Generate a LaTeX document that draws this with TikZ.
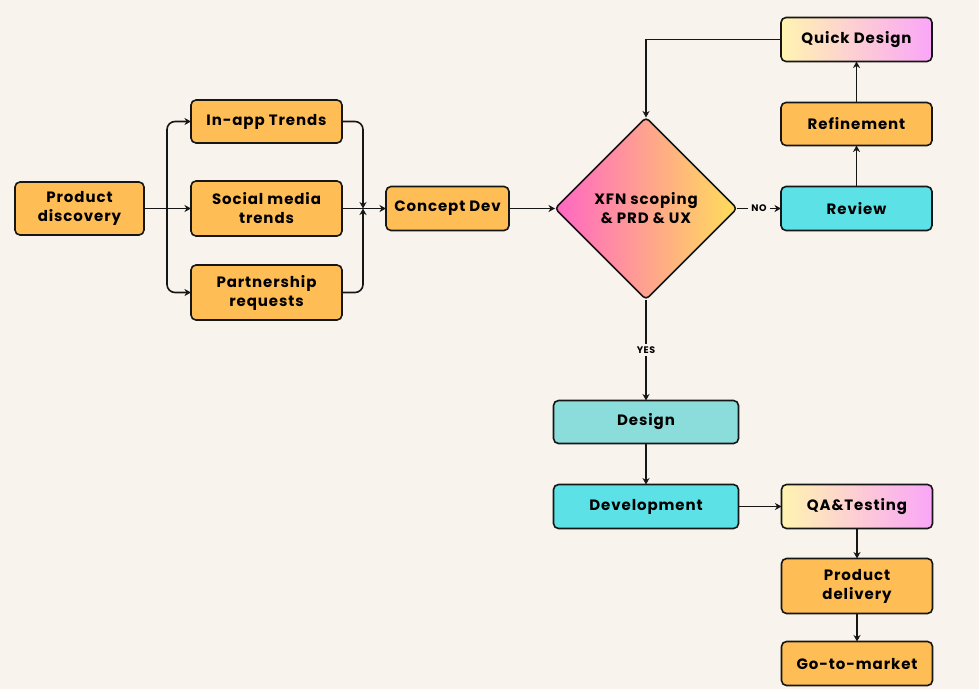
\documentclass[tikz,border=0pt]{standalone}
\usepackage{fontspec}
\setmainfont{Poppins}[LetterSpace=6]
\usepackage{tikz}
\usetikzlibrary{arrows.meta, positioning, shapes.geometric}
\definecolor{canvas}{RGB}{248,243,236}
\definecolor{amber}{RGB}{255,190,85}
\definecolor{aqua}{RGB}{92,225,230}
\definecolor{seafoam}{RGB}{139,221,219}
\definecolor{lemon}{RGB}{255,244,176}
\definecolor{blush}{RGB}{255,205,215}
\definecolor{orchid}{RGB}{250,166,248}
\definecolor{rose}{RGB}{255,102,196}
\definecolor{sun}{RGB}{255,222,89}
\definecolor{ink}{RGB}{22,22,22}
\tikzstyle{box}=[rectangle, rounded corners=5pt, draw=ink, line width=1.6pt, fill=amber, minimum width=151pt, minimum height=44pt, align=center, inner sep=2pt, outer sep=0pt, font=\bfseries\fontsize{15}{19}\selectfont]
\tikzstyle{tall}=[minimum height=55pt]
\tikzstyle{wide}=[minimum width=185pt]
\tikzstyle{glow}=[box, left color=lemon, middle color=blush, right color=orchid]
\tikzstyle{decision}=[diamond, aspect=1, draw=ink, line width=1.6pt, rounded corners=4pt, minimum width=182pt, minimum height=182pt, inner sep=0pt, outer sep=0pt, left color=rose, right color=sun, align=center, font=\bfseries\fontsize{15}{19}\selectfont]
\tikzstyle{flow}=[-{Stealth[length=6.5pt,width=7pt,inset=2pt]}, line width=1.6pt, draw=ink]
\tikzstyle{from}=[{Stealth[length=6.5pt,width=7pt,inset=2pt]}-, line width=1.6pt, draw=ink]
\tikzstyle{tag}=[fill=canvas, inner sep=3pt, font=\bfseries\fontsize{9.5}{11}\selectfont]

\begin{document}
\begin{tikzpicture}
  \fill[canvas] (0pt,0pt) rectangle (979pt,-689pt);
  % ideas
  \node[box, minimum width=129pt, minimum height=53pt] (disc) at (79.5pt,-208.5pt) {Product\\discovery};
  \node[box, tall] (social) [right=47pt of disc] {Social media\\trends}
    edge [from] (disc);
  \node[box, minimum height=43pt] (trend) [above=38pt of social] {In-app Trends};
  \node[box, tall] (partner) [below=29pt of social] {Partnership\\requests};
  \coordinate[right=23pt of disc.east] (split);
  \coordinate[right=21pt of social.east] (merge);
  \draw[flow, rounded corners=8pt] (split) |- (trend);
  \draw[flow, rounded corners=8pt] (split) |- (partner);
  \draw[flow, rounded corners=8pt] (trend) -| (merge);
  \draw[flow, rounded corners=8pt] (partner) -| (merge);
  % scoping
  \node[box, minimum width=123pt] (concept) [right=44pt of social] {Concept Dev}
    edge [from] (social);
  \node[decision] (xfn) [right=46pt of concept] {XFN scoping\\\& PRD \& UX}
    edge [from] (concept);
  \node[box, fill=aqua] (review) [right=44pt of xfn] {Review}
    edge [from] node[tag] {NO} (xfn);
  \node[box, minimum height=43pt] (refine) [above=41pt of review] {Refinement}
    edge [from] (review);
  \node[glow] (quick) [above=41pt of refine] {Quick Design}
    edge [from] (refine);
  \draw[flow] (quick) -| (xfn);
  % build
  \node[box, wide, fill=seafoam, minimum height=43pt] (design) [below=101pt of xfn] {Design}
    edge [from] node[tag] {YES} (xfn);
  \node[box, wide, fill=aqua] (dev) [below=41pt of design] {Development}
    edge [from] (design);
  \node[glow] (qa) [right=43pt of dev] {QA\&Testing}
    edge [from] (dev);
  \node[box, tall] (deliv) [below=30pt of qa] {Product\\delivery}
    edge [from] (qa);
  \node[box] (gtm) [below=28pt of deliv] {Go-to-market}
    edge [from] (deliv);
\end{tikzpicture}
\end{document}
